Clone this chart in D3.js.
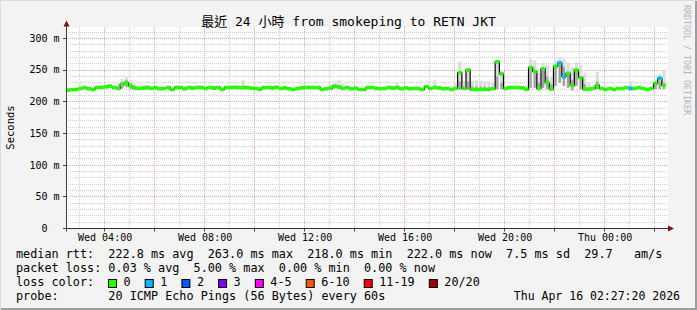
<!DOCTYPE html>
<html>
<head>
<meta charset="utf-8">
<script src="https://cdn.jsdelivr.net/npm/d3@7"></script>
<style>
  html, body { margin: 0; padding: 0; background: #f3f3f3; }
  svg { display: block; }
  text { font-family: "DejaVu Sans Mono", "Noto Sans CJK TC", monospace; fill: #000; white-space: pre; }
</style>
</head>
<body>
<div id="chart"></div>
<script>
// time span of the graph
var endTime = new Date(2026, 3, 16, 2, 27, 20);
var stepSec = 600; // one median value every 10 minutes

// median rtt (ms), one value per step, starting 24h before endTime
var median = [
  218.4, 219.0, 219.4, 221.0, 222.6, 220.5, 219.4, 222.6, 222.6, 223.5, 224.7, 222.6,
  221.0, 227.5, 230.0, 225.0, 222.0, 221.0, 221.5, 222.6, 221.0, 222.6, 220.5, 221.0,
  222.6, 219.4, 222.6, 222.6, 220.5, 222.6, 221.5, 223.0, 222.6, 221.0, 222.6, 221.5,
  222.6, 219.4, 222.6, 222.6, 223.0, 222.6, 222.6, 222.6, 221.5, 221.0, 220.0, 222.6,
  222.6, 222.0, 223.0, 221.0, 222.0, 220.5, 219.4, 220.5, 222.0, 222.6, 222.6, 222.6,
  222.6, 219.4, 220.5, 221.5, 224.7, 223.5, 221.0, 222.6, 220.5, 221.5, 219.4, 219.4,
  222.6, 222.6, 221.0, 220.5, 221.0, 222.6, 221.5, 222.6, 220.5, 222.0, 220.5, 221.0,
  221.0, 219.4, 224.0, 221.0, 222.6, 222.0, 220.5, 221.0, 219.4, 221.0, 246.0, 221.0,
  250.0, 219.4, 219.4, 219.4, 219.4, 219.4, 220.5, 263.0, 244.0, 221.0, 222.6, 222.6,
  222.6, 222.0, 219.4, 254.0, 248.0, 221.0, 252.0, 230.0, 220.0, 256.0, 261.0, 240.0,
  245.0, 226.0, 250.0, 238.0, 220.0, 220.0, 221.0, 226.0, 221.0, 219.4, 221.0, 219.4,
  221.0, 221.0, 222.6, 221.0, 221.0, 222.6, 221.0, 219.4, 221.0, 229.0, 237.0, 226.0
];

// steps with lost pings: [step index, pings lost of 20]
var lossSteps = [[118, 1], [119, 1], [135, 1], [142, 1]];

// smoke (ping spread): [step index, lowest, dense part top, highest] in ms
var smoke = [
  [12, 219, 224, 229], [13, 221, 231, 236], [14, 223, 234, 239], [15, 220, 229, 234],
  [16, 219, 224, 228], [17, 219, 223, 227], [18, 219, 223, 226], [19, 219, 223, 226],
  [20, 219, 222, 225], [21, 219, 223, 225], [42, 220, 224, 234], [63, 219, 222, 228],
  [64, 221, 226, 229], [65, 220, 225, 234], [66, 219, 223, 228], [79, 220, 223, 230],
  [88, 220, 224, 234], [93, 219, 222, 228], [94, 219, 232, 263], [95, 219, 224, 233],
  [96, 219, 232, 254], [97, 219, 224, 233], [98, 219, 224, 234], [99, 219, 224, 233],
  [100, 219, 224, 232], [101, 219, 223, 232], [102, 219, 223, 230], [103, 220, 240, 266],
  [104, 220, 230, 250], [110, 219, 222, 226], [111, 222, 252, 268], [112, 222, 245, 265],
  [113, 218, 230, 245], [114, 222, 250, 262], [115, 220, 240, 258], [116, 218, 228, 240],
  [117, 225, 254, 265], [118, 230, 262, 270], [119, 225, 255, 268], [120, 222, 245, 262],
  [121, 218, 235, 255], [122, 225, 252, 262], [123, 220, 240, 258], [124, 218, 228, 245],
  [125, 218, 222, 230], [127, 220, 232, 247], [135, 219, 224, 232], [141, 220, 228, 236],
  [142, 220, 232, 244], [143, 220, 230, 250]
];

var yTicks = [0, 50, 100, 150, 200, 250, 300];
var yTickLabels = ['0  ', '50 m', '100 m', '150 m', '200 m', '250 m', '300 m'];

var lossLabels = ['0', '1', '2', '3', '4-5', '6-10', '11-19', '20/20'];
var lossColors = ['#26ff00', '#00b8ff', '#0059ff', '#7e00ff', '#ff00ff', '#ff5500', '#ff0000', '#a10000'];

var title = '最近 24 小時 from smokeping to RETN JKT';
var legendRows = [
  'median rtt:  222.8 ms avg  263.0 ms max  218.0 ms min  222.0 ms now  7.5 ms sd  29.7   am/s',
  'packet loss: 0.03 % avg  5.00 % max  0.00 % min  0.00 % now',
  'loss color:',
  'probe:       20 ICMP Echo Pings (56 Bytes) every 60s'
];
var stampText = 'Thu Apr 16 02:27:20 2026';

// ---- drawing ----
var W = 697, H = 310;
var X0 = 66, X1 = 666, Y0 = 228.5, Y1 = 27;

var startTime = d3.timeSecond.offset(endTime, -86400);
var x = d3.scaleTime().domain([startTime, endTime]).range([X0, X1]);
var y = d3.scaleLinear().domain([0, 318]).range([Y0, Y1]);
var fmt = d3.timeFormat('%a %H:%M');

function stepTime(i) { return d3.timeSecond.offset(startTime, i * stepSec); }
function px(v) { return Math.floor(v) + 0.5; }

var svg = d3.select('#chart').append('svg')
  .attr('width', W)
  .attr('height', H);

svg.append('rect').attr('width', W).attr('height', H).attr('fill', '#f3f3f3');
// frame
svg.append('path').attr('d', 'M0.5,' + H + 'V0.5H' + W).attr('fill', 'none').attr('stroke', '#dcdcdc');
svg.append('path').attr('d', 'M1,' + (H - 1) + 'H' + (W - 1) + 'V1').attr('fill', 'none')
  .attr('stroke', '#9e9e9e').attr('stroke-width', 2);

// canvas
svg.append('rect')
  .attr('x', X0).attr('y', Y1)
  .attr('width', X1 - X0 + 2).attr('height', Y0 - Y1)
  .attr('fill', '#fff');

// horizontal grid
var hVals = d3.range(10, 318, 10);
svg.append('g').selectAll('line').data(hVals).enter().append('line')
  .attr('x1', X0).attr('x2', X1 + 2)
  .attr('y1', function(d) { return px(y(d)); })
  .attr('y2', function(d) { return px(y(d)); })
  .attr('stroke', function(d) { return d % 50 === 0 ? '#eeaaaa' : '#d2d2d2'; })
  .attr('stroke-dasharray', '1,1');

// vertical grid
var hours = d3.timeHour.range(d3.timeHour.ceil(startTime), endTime);
svg.append('g').selectAll('line').data(hours).enter().append('line')
  .attr('x1', function(d) { return px(x(d)); })
  .attr('x2', function(d) { return px(x(d)); })
  .attr('y1', Y1).attr('y2', Y0)
  .attr('stroke', function(d) { return d.getHours() % 2 === 0 ? '#f2a6a6' : '#d2d2d2'; })
  .attr('stroke-dasharray', '1,1');

// smoke
var sg = svg.append('g');
sg.selectAll('rect.outer').data(smoke).enter().append('rect')
  .attr('x', function(d) { return x(stepTime(d[0])) + 0.5; })
  .attr('width', function(d) { return x(stepTime(d[0] + 1)) - x(stepTime(d[0])) - 1; })
  .attr('y', function(d) { return y(d[3]); })
  .attr('height', function(d) { return y(d[1]) - y(d[3]); })
  .attr('fill', '#dcdcdc');
sg.selectAll('rect.core').data(smoke).enter().append('rect')
  .attr('x', function(d) { return x(stepTime(d[0])) + 1; })
  .attr('width', function(d) { return x(stepTime(d[0] + 1)) - x(stepTime(d[0])) - 2; })
  .attr('y', function(d) { return y(d[2]); })
  .attr('height', function(d) { return y(d[1]) - y(d[2]); })
  .attr('fill', '#a2a2a2');

// median
var pts = median.map(function(v, i) { return { t: stepTime(i), v: v }; });
pts.push({ t: endTime, v: median[median.length - 1] });

svg.append('path')
  .attr('d', d3.line().curve(d3.curveStepAfter)
    .x(function(d) { return x(d.t); })
    .y(function(d) { return y(d.v); })(pts))
  .attr('fill', 'none')
  .attr('stroke', '#000')
  .attr('stroke-width', 1.2);

svg.append('path')
  .attr('d', d3.area().curve(d3.curveStepAfter)
    .x(function(d) { return x(d.t); })
    .y0(function(d) { return y(d.v) + 1.8; })
    .y1(function(d) { return y(d.v) - 1.8; })(pts))
  .attr('fill', lossColors[0]);

svg.append('g').selectAll('rect').data(lossSteps).enter().append('rect')
  .attr('x', function(d) { return x(stepTime(d[0])); })
  .attr('width', function(d) { return x(stepTime(d[0] + 1)) - x(stepTime(d[0])); })
  .attr('y', function(d) { return y(median[d[0]]) - 1.8; })
  .attr('height', 3.6)
  .attr('fill', function(d) { return lossColors[d[1]]; });

// axes
svg.append('line').attr('x1', 66.5).attr('x2', 66.5).attr('y1', Y0 + 3).attr('y2', 24)
  .attr('stroke', '#404040');
svg.append('line').attr('x1', X0).attr('x2', 670).attr('y1', Y0).attr('y2', Y0)
  .attr('stroke', '#333');
svg.append('path').attr('d', 'M63.5,26.5L69.5,26.5L66.5,20.5Z').attr('fill', '#7f1010');
svg.append('path').attr('d', 'M668,225.5L668,231.5L674,228.5Z').attr('fill', '#7f1010');

svg.append('g').selectAll('line').data(yTicks).enter().append('line')
  .attr('x1', 63).attr('x2', 66.5)
  .attr('y1', function(d) { return px(y(d)); })
  .attr('y2', function(d) { return px(y(d)); })
  .attr('stroke', '#404040');

var majorHours = hours.filter(function(d) { return d.getHours() % 2 === 0; });
svg.append('g').selectAll('line').data(majorHours).enter().append('line')
  .attr('x1', function(d) { return px(x(d)); })
  .attr('x2', function(d) { return px(x(d)); })
  .attr('y1', Y0).attr('y2', Y0 + 3)
  .attr('stroke', '#404040');

// y labels
svg.append('g').selectAll('text').data(yTicks).enter().append('text')
  .attr('x', 59.5)
  .attr('y', function(d) { return y(d) + 3.4; })
  .attr('text-anchor', 'end')
  .style('font-size', '10px')
  .text(function(d, i) { return yTickLabels[i]; });

// x labels
var labelHours = hours.filter(function(d) { return d.getHours() % 4 === 0; });
svg.append('g').selectAll('text').data(labelHours).enter().append('text')
  .attr('x', function(d) { return x(d) + 0.5; })
  .attr('y', 241)
  .attr('text-anchor', 'middle')
  .style('font-size', '10px')
  .text(fmt);

// titles
svg.append('text')
  .attr('x', W / 2).attr('y', 26)
  .attr('text-anchor', 'middle')
  .style('font-size', '13px')
  .text(title);

svg.append('text')
  .attr('transform', 'translate(14,127.5) rotate(-90)')
  .attr('text-anchor', 'middle')
  .style('font-size', '10.5px')
  .text('Seconds');

svg.append('text')
  .attr('transform', 'translate(684,5) rotate(90)')
  .style('font-size', '8.3px')
  .style('fill', '#b4b4b4')
  .text('RRDTOOL / TOBI OETIKER');

// legend
svg.append('g').selectAll('text').data(legendRows).enter().append('text')
  .attr('x', 16)
  .attr('y', function(d, i) { return 258.3 + i * 14; })
  .style('font-size', '11.8px')
  .text(function(d) { return d; });

var boxX = [];
lossLabels.reduce(function(acc, l) { boxX.push(acc); return acc + 36.7 + 7.1 * (l.length - 1); }, 108.5);

var lg = svg.append('g').selectAll('g').data(lossLabels).enter().append('g')
  .attr('transform', function(d, i) { return 'translate(' + boxX[i] + ',0)'; });
lg.append('rect')
  .attr('x', 0).attr('y', 279.5).attr('width', 8).attr('height', 8)
  .attr('fill', function(d, i) { return lossColors[i]; })
  .attr('stroke', '#000');
lg.append('text')
  .attr('x', 15).attr('y', 286.3)
  .style('font-size', '11.8px')
  .text(function(d) { return d; });

svg.append('text')
  .attr('x', 680).attr('y', 300.3)
  .attr('text-anchor', 'end')
  .style('font-size', '11.5px')
  .text(stampText);
</script>
</body>
</html>
